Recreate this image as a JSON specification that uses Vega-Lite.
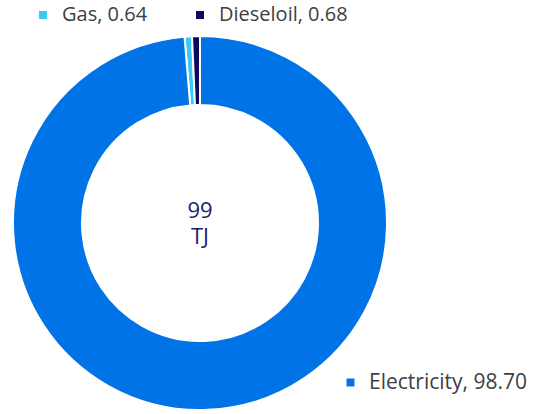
{
  "$schema": "https://vega.github.io/schema/vega-lite/v6.json",
  "width": 400,
  "height": 382,
  "autosize": "none",
  "padding": {"left": 0, "top": 32, "right": 135, "bottom": 0},
  "background": "white",
  "config": {"view": {"stroke": null}, "font": "Open Sans"},
  "layer": [
    {
      "data": {"values": [
        {"source": "Electricity", "label": "Electricity, 98.70", "value": 98.70, "idx": 1},
        {"source": "Gas", "label": "Gas, 0.64", "value": 0.64, "idx": 2},
        {"source": "Dieseloil", "label": "Dieseloil, 0.68", "value": 0.68, "idx": 3}
      ]},
      "mark": {"type": "arc", "outerRadius": 187, "innerRadius": 118, "stroke": "white", "strokeWidth": 2},
      "encoding": {
        "theta": {"field": "value", "type": "quantitative", "stack": true},
        "order": {"field": "idx", "type": "quantitative"},
        "color": {
          "field": "label", "type": "nominal",
          "scale": {"domain": ["Electricity, 98.70", "Gas, 0.64", "Dieseloil, 0.68"], "range": ["#0073E6", "#3CC8F5", "#0A0A5E"]},
          "legend": {
            "title": null, "values": ["Gas, 0.64", "Dieseloil, 0.68"],
            "orient": "none", "direction": "horizontal", "legendX": 33, "legendY": -27,
            "symbolType": "square", "symbolSize": 64, "symbolStrokeWidth": 0,
            "labelFont": "Open Sans", "labelFontSize": 20, "labelColor": "#404040", "labelOffset": 9,
            "columnPadding": 42, "padding": 0
          }
        }
      }
    },
    {
      "data": {"values": [
        {"source": "Electricity", "label": "Electricity, 98.70", "value": 98.70, "idx": 1}
      ]},
      "mark": {"type": "arc", "outerRadius": 187, "innerRadius": 118, "stroke": "white", "strokeWidth": 2},
      "encoding": {
        "theta": {"field": "value", "type": "quantitative", "stack": true},
        "order": {"field": "idx", "type": "quantitative"},
        "color": {
          "field": "label", "type": "nominal",
          "scale": {"domain": ["Electricity, 98.70"], "range": ["#0073E6"]},
          "legend": {
            "title": null,
            "orient": "none", "legendX": 340, "legendY": 340,
            "symbolType": "square", "symbolSize": 64, "symbolStrokeWidth": 0,
            "labelFont": "Open Sans", "labelFontSize": 21, "labelColor": "#404040", "labelOffset": 8,
            "padding": 0
          }
        }
      }
    },
    {
      "data": {"values": [{"lines": ["99", "TJ"]}]},
      "mark": {"type": "text", "align": "center", "baseline": "middle", "font": "Open Sans", "fontSize": 22, "lineHeight": 26, "dy": -12, "color": "#1A1A6E"},
      "encoding": {"text": {"field": "lines"}}
    }
  ],
  "resolve": {"scale": {"color": "independent"}, "legend": {"color": "independent"}}
}
